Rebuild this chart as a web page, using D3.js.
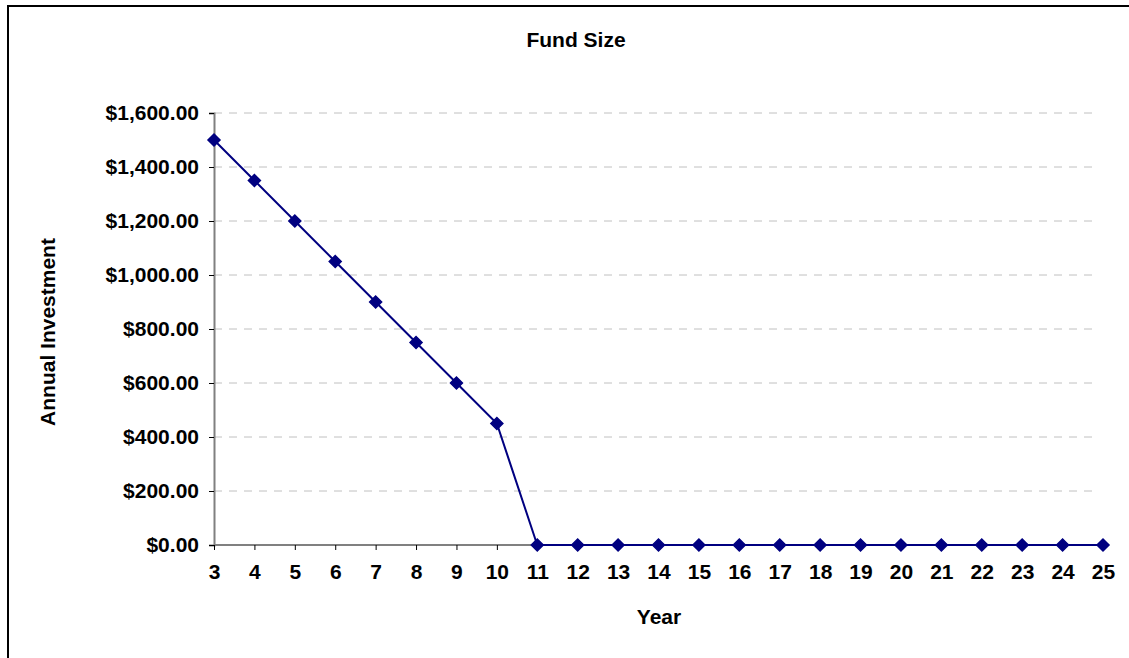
<!DOCTYPE html>
<html>
<head>
<meta charset="utf-8">
<script src="https://cdn.jsdelivr.net/npm/d3@7"></script>
<style>
  html, body { margin: 0; padding: 0; background: #fff; }
  svg { display: block; }
  text { font-family: "Liberation Sans", Arial, sans-serif; font-weight: bold; fill: #000; }
</style>
</head>
<body>
<svg id="chart" width="1129" height="658"></svg>
<script>
// Fund size by year
const years = [3, 4, 5, 6, 7, 8, 9, 10, 11, 12, 13, 14, 15, 16, 17, 18, 19, 20, 21, 22, 23, 24, 25];
const annualInvestment = [1500, 1350, 1200, 1050, 900, 750, 600, 450, 0, 0, 0, 0, 0, 0, 0, 0, 0, 0, 0, 0, 0, 0, 0];
const yTicks = [0, 200, 400, 600, 800, 1000, 1200, 1400, 1600];

const titleText = "Fund Size";
const xTitle = "Year";
const yTitle = "Annual Investment";

const svg = d3.select("#chart");
const W = 1129, H = 658;
const plot = { left: 214, right: 1103, top: 113, bottom: 545 };
const fontSize = "21px";

// Outer chart frame (runs off the right and bottom edges)
svg.append("rect")
  .attr("x", 8).attr("y", 6)
  .attr("width", W + 50).attr("height", H + 50)
  .attr("fill", "#fff")
  .attr("stroke", "#000").attr("stroke-width", 2);

const x = d3.scalePoint().domain(years).range([plot.left, plot.right]);
const y = d3.scaleLinear().domain([0, 1600]).range([plot.bottom, plot.top]);

const fmt = v => "$" + d3.format(",.2f")(v);

// Dashed horizontal gridlines
svg.append("g")
  .selectAll("line")
  .data(yTicks.filter(d => d > 0))
  .join("line")
  .attr("x1", plot.left).attr("x2", plot.right - 4)
  .attr("y1", d => y(d)).attr("y2", d => y(d))
  .attr("stroke", "#c0c0c0").attr("stroke-width", 1)
  .attr("stroke-dasharray", "8,7");

// Y axis
const yAxis = svg.append("g")
  .attr("transform", `translate(${plot.left},0)`)
  .call(d3.axisLeft(y).tickValues(yTicks).tickFormat(fmt).tickSize(5).tickPadding(10));
yAxis.select(".domain").attr("stroke", "#808080").attr("stroke-width", 2);
yAxis.selectAll(".tick line").attr("stroke", "#000").attr("stroke-width", 1);
yAxis.selectAll(".tick text")
  .style("font-size", fontSize).style("font-family", "Liberation Sans, Arial, sans-serif")
  .style("font-weight", "bold").attr("fill", "#000");

// X axis
const xAxis = svg.append("g")
  .attr("transform", `translate(0,${plot.bottom})`)
  .call(d3.axisBottom(x).tickSize(5).tickPadding(14));
xAxis.select(".domain").attr("stroke", "#808080").attr("stroke-width", 2)
  .attr("d", `M${plot.left},0H${plot.right}`);
xAxis.selectAll(".tick line").attr("stroke", "#000").attr("stroke-width", 1);
xAxis.selectAll(".tick text")
  .style("font-size", fontSize).style("font-family", "Liberation Sans, Arial, sans-serif")
  .style("font-weight", "bold").attr("fill", "#000");

// Series line
const line = d3.line()
  .x((d, i) => x(years[i]))
  .y(d => y(d));
svg.append("path")
  .datum(annualInvestment)
  .attr("d", line)
  .attr("fill", "none")
  .attr("stroke", "#000080")
  .attr("stroke-width", 2);

// Diamond markers
const diamond = d3.symbol().type(d3.symbolSquare).size(72);
svg.append("g")
  .selectAll("path")
  .data(annualInvestment)
  .join("path")
  .attr("d", diamond)
  .attr("transform", (d, i) => `translate(${x(years[i])},${y(d)}) rotate(45)`)
  .attr("fill", "#000080")
  .attr("stroke", "#000080").attr("stroke-width", 1.5);

// Titles
svg.append("text")
  .attr("x", 576).attr("y", 47)
  .attr("text-anchor", "middle")
  .style("font-size", fontSize)
  .text(titleText);

svg.append("text")
  .attr("x", 659).attr("y", 624)
  .attr("text-anchor", "middle")
  .style("font-size", fontSize)
  .text(xTitle);

svg.append("text")
  .attr("transform", "translate(55,332) rotate(-90)")
  .attr("text-anchor", "middle")
  .style("font-size", fontSize)
  .text(yTitle);
</script>
</body>
</html>
